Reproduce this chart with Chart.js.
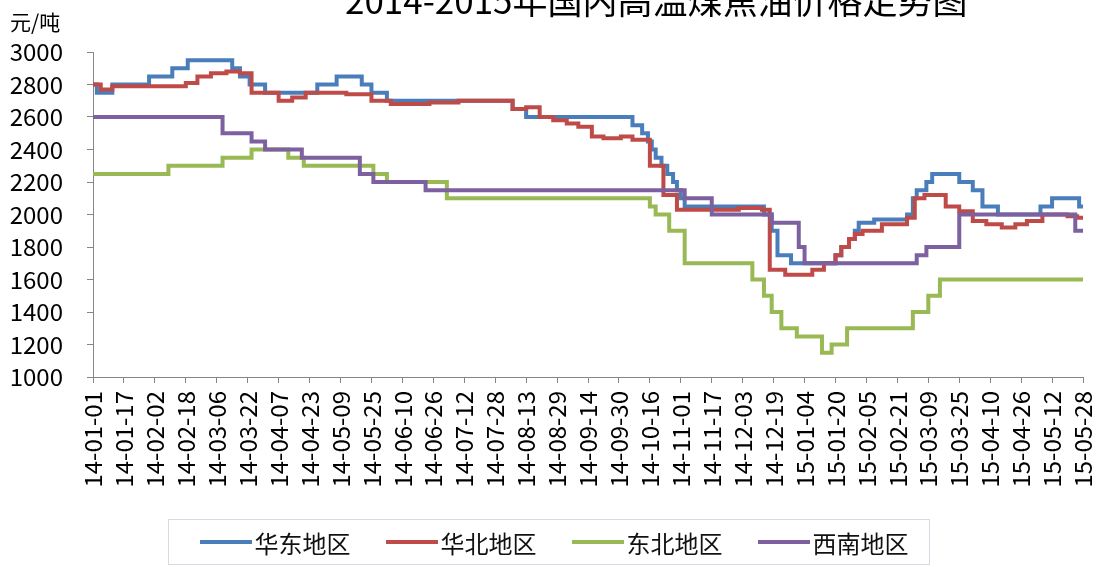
<!DOCTYPE html>
<html>
<head>
<meta charset="utf-8">
<script src="https://cdn.jsdelivr.net/npm/chart.js@4"></script>
<style>
  html, body { margin: 0; padding: 0; background: #fff; }
  #wrap { position: relative; width: 1100px; height: 567px; overflow: hidden; background: #fff; }
  #chart { position: absolute; left: 0; top: 0; }
  .title { position: absolute; left: 345px; top: -19px; font: 35px "Noto Sans CJK SC", sans-serif; line-height: 35px; white-space: nowrap; color: #000; }
  .unit { position: absolute; left: 10px; top: 8px; font: 21px "Noto Sans CJK SC", sans-serif; line-height: 26px; color: #000; }
  .legend { position: absolute; left: 168px; top: 519px; width: 762px; height: 46px; box-sizing: border-box;
            border: 1px solid #d4dbe6; display: flex; align-items: center; justify-content: center; gap: 35px;
            padding-left: 10px; font: 24px "Noto Sans CJK SC", sans-serif; color: #111; }
  .item { display: flex; align-items: center; }
  .swatch { width: 52px; height: 4px; margin-right: 3px; }
</style>
</head>
<body>
<div id="wrap">
  <canvas id="chart" width="1100" height="567"></canvas>
  <div class="title">2014-2015年国内高温煤焦油价格走势图</div>
  <div class="unit">元/吨</div>
  <div class="legend" id="legend"></div>
</div>
<script>
// Date labels every 16 days, from 2014-01-01 (day 0) to 2015-05-28 (day 512)
const dateLabels = ['14-01-01','14-01-17','14-02-02','14-02-18','14-03-06','14-03-22','14-04-07','14-04-23',
  '14-05-09','14-05-25','14-06-10','14-06-26','14-07-12','14-07-28','14-08-13','14-08-29','14-09-14','14-09-30',
  '14-10-16','14-11-01','14-11-17','14-12-03','14-12-19','15-01-04','15-01-20','15-02-05','15-02-21','15-03-09',
  '15-03-25','15-04-10','15-04-26','15-05-12','15-05-28'];

// Price changes: day index (days since 2014-01-01) and the new price from that day on (元/吨)
const eastDays   = [0, 2, 10, 29, 41, 49, 72, 76, 81, 89, 116, 126, 139, 144, 152, 217, 224, 279, 284, 287,
                    289, 291, 294, 297, 300, 302, 304, 306, 347, 351, 354, 361, 384, 387, 391, 394, 396, 404, 421, 424,
                    426, 431, 434, 448, 455, 460, 468, 490, 496, 510, 512];
const eastPrices = [2800, 2750, 2800, 2850, 2900, 2950, 2900, 2850, 2800, 2750, 2800, 2850, 2800, 2750, 2700, 2650, 2600, 2550, 2500, 2450,
                    2400, 2350, 2300, 2250, 2200, 2150, 2100, 2050, 2000, 1900, 1750, 1700, 1750, 1800, 1850, 1900, 1950, 1970, 2000, 2100,
                    2150, 2200, 2250, 2200, 2150, 2050, 2000, 2050, 2100, 2050, 2050];

const northDays   = [0, 4, 10, 48, 54, 61, 69, 76, 82, 96, 103, 110, 131, 144, 154, 174, 189, 217, 224, 231,
                     238, 245, 251, 258, 264, 273, 279, 288, 295, 302, 334, 346, 350, 358, 372, 378, 384, 387, 391, 394,
                     398, 408, 421, 425, 430, 441, 448, 455, 462, 470, 477, 483, 491, 504, 509, 512];
const northPrices = [2800, 2770, 2790, 2810, 2850, 2870, 2880, 2870, 2750, 2700, 2720, 2750, 2740, 2700, 2680, 2690, 2700, 2650, 2660, 2600,
                     2580, 2560, 2540, 2480, 2470, 2480, 2460, 2300, 2120, 2030, 2040, 2030, 1660, 1630, 1660, 1700, 1750, 1800, 1850, 1880,
                     1900, 1940, 1980, 2100, 2120, 2050, 2020, 1960, 1940, 1920, 1940, 1960, 2000, 1990, 1980, 1980];

const northeastDays   = [0, 39, 67, 82, 101, 109, 145, 152, 183, 288, 291, 298, 306, 341, 347, 351, 356, 364, 377, 382,
                         390, 424, 432, 438, 512];
const northeastPrices = [2250, 2300, 2350, 2400, 2350, 2300, 2250, 2200, 2100, 2050, 2000, 1900, 1700, 1600, 1500, 1400, 1300, 1250, 1150, 1200,
                         1300, 1400, 1500, 1600, 1600];

const southwestDays   = [0, 67, 82, 89, 108, 138, 145, 172, 306, 320, 351, 365, 368, 426, 431, 448, 508, 512];
const southwestPrices = [2600, 2500, 2450, 2400, 2350, 2250, 2200, 2150, 2100, 2000, 1950, 1800, 1700, 1750, 1800, 2000, 1900, 1900];

const seriesNames  = ['华东地区', '华北地区', '东北地区', '西南地区'];
const seriesColors = ['#4A7EBB', '#BE4B48', '#98B954', '#7D60A0'];

const yMin = 1000, yMax = 3000, yStep = 200;
const dayStep = 16, lastDay = 512;

const seriesData = [
  [eastDays, eastPrices],
  [northDays, northPrices],
  [northeastDays, northeastPrices],
  [southwestDays, southwestPrices]
];

const datasets = seriesData.map(([days, prices], i) => ({
  label: seriesNames[i],
  data: days.map((d, k) => ({ x: d, y: prices[k] })),
  borderColor: seriesColors[i],
  backgroundColor: seriesColors[i],
  borderWidth: 4,
  pointRadius: 0,
  stepped: true,
  fill: false,
  order: seriesData.length - i   // later series are painted on top
}));

const axisColor = '#868686';
const tickFont = { family: "'Noto Sans CJK SC', sans-serif", size: 24 };

new Chart(document.getElementById('chart'), {
  type: 'line',
  data: { datasets },
  options: {
    responsive: false,
    animation: false,
    devicePixelRatio: 1,
    layout: { padding: { left: 0, right: 17, top: 52, bottom: 60 } },
    plugins: { legend: { display: false }, tooltip: { enabled: false }, title: { display: false } },
    scales: {
      x: {
        type: 'linear',
        min: 0,
        max: lastDay,
        afterFit(scale) {
          scale.height = 130;
          // let the layout padding alone decide the horizontal extent
          scale.paddingLeft = 0;
          scale.paddingRight = 0;
        },
        ticks: {
          stepSize: dayStep,
          autoSkip: false,
          minRotation: 90,
          maxRotation: 90,
          padding: 8,
          color: '#000',
          font: tickFont,
          callback: v => dateLabels[Math.round(v / dayStep)]
        },
        grid: { drawOnChartArea: false, tickLength: 6, color: axisColor },
        border: { color: axisColor }
      },
      y: {
        min: yMin,
        max: yMax,
        afterFit(scale) { scale.width = 93; },
        ticks: { stepSize: yStep, padding: 24, color: '#000', font: tickFont, callback: v => String(v) },
        grid: { drawOnChartArea: false, tickLength: 6, color: axisColor },
        border: { color: axisColor }
      }
    }
  }
});

// Legend row below the plot
const legend = document.getElementById('legend');
seriesNames.forEach((name, i) => {
  const item = document.createElement('div');
  item.className = 'item';
  const sw = document.createElement('span');
  sw.className = 'swatch';
  sw.style.background = seriesColors[i];
  const txt = document.createElement('span');
  txt.textContent = name;
  item.appendChild(sw);
  item.appendChild(txt);
  legend.appendChild(item);
});
</script>
</body>
</html>
